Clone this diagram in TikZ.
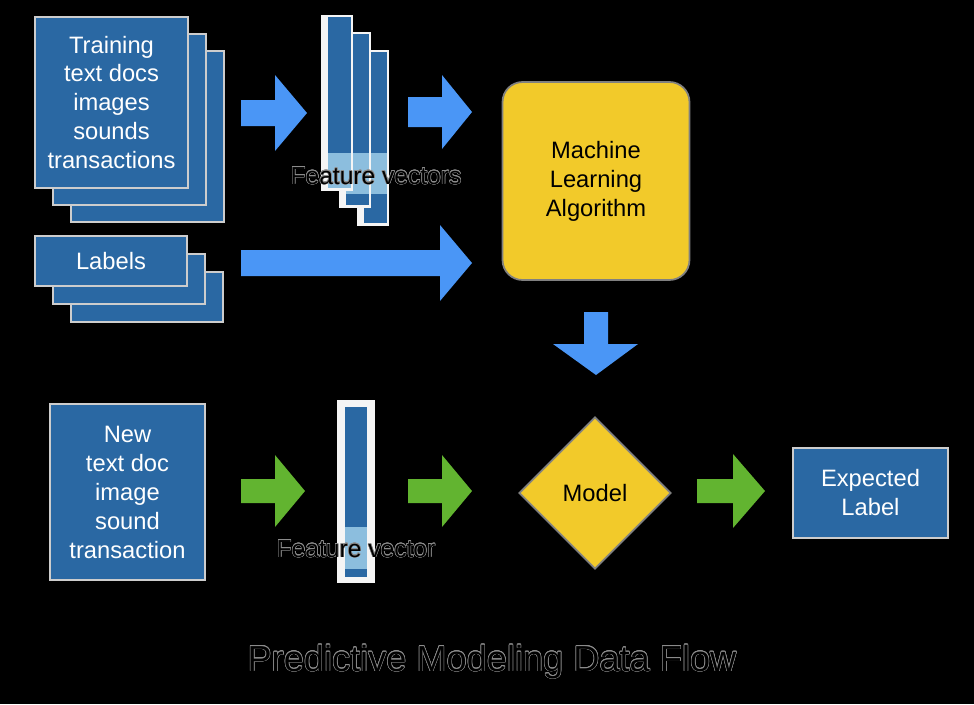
\documentclass[tikz,border=0pt]{standalone}
\usepackage{fontspec}
\setmainfont{Liberation Sans}
\usepackage[copies]{contour}
\contourlength{0.3pt}
\usetikzlibrary{shapes.geometric,positioning}

\definecolor{sheetblue}{RGB}{42,104,163}
\definecolor{vecband}{RGB}{140,190,222}
\definecolor{arrowblue}{RGB}{74,150,246}
\definecolor{arrowgreen}{RGB}{98,180,48}
\definecolor{algoyellow}{RGB}{242,202,42}
\definecolor{edgegray}{RGB}{205,205,205}

\tikzset{
  sheet/.style={fill=sheetblue, draw=edgegray, line width=1.2pt, inner sep=0pt},
  sheettext/.style={sheet, text=white, align=center,
    font=\fontsize{13.5}{16.5}\selectfont},
  yellowbox/.style={fill=algoyellow, draw=gray, line width=1pt, text=black,
    align=center, font=\fontsize{13.5}{16.5}\selectfont},
  caption/.style={text=black, font=\fontsize{14}{16}\selectfont, inner sep=0pt},
  vecbar/.style={fill=sheetblue},
  vecedge/.style={fill=white!92!gray}
}

% fat arrow: colour, start x, head x, tip x, middle y, shaft half, head half
\newcommand{\fatarrow}[7]{%
  \fill[#1] (#2,#5-#6) -- (#3,#5-#6) -- (#3,#5-#7) -- (#4,#5)
    -- (#3,#5+#7) -- (#3,#5+#6) -- (#2,#5+#6) -- cycle;}

\begin{document}
\begin{tikzpicture}[x=0.02cm, y=-0.02cm]

  % background, keeps the size of the page
  \fill[black] (0,0) rectangle (974,704);
  \useasboundingbox (0,0) rectangle (974,704);

  % 1. training data and labels, stacked sheets
  \foreach \k in {2,1} {
    \node[sheet, minimum width=3.06cm, minimum height=3.42cm]
      at (111.5+18*\k, 102.5+17*\k) {};
    \node[sheet, minimum width=3.04cm, minimum height=1cm]
      at (111+18*\k, 261+18*\k) {};
  }
  \node[sheettext, minimum width=3.06cm, minimum height=3.42cm] (train)
    at (111.5,102.5) {Training\\text docs\\images\\sounds\\transactions};
  \node[sheettext, minimum width=3.04cm, minimum height=1cm] (labels)
    at (111,261) {Labels};

  % 2. feature vectors
  \foreach \dx/\dy/\lb in {36/35/194, 18/17/194, 0/0/188} {
    \fill[vecedge] (321+\dx,15+\dy) rectangle (353+\dx,191+\dy);
    \fill[vecbar] (328+\dx,17+\dy) rectangle (351+\dx,188+\dy);
    \fill[vecband] (328+\dx,153) rectangle (351+\dx,\lb);
  }
  \node[caption] (fvecs) at (376,176) {\contour{white!55!black}{Feature vectors}};

  % 3. the algorithm
  \node[yellowbox, rounded corners=0.4cm, minimum width=3.74cm,
    minimum height=3.96cm] (algo) at (596,181) {Machine\\Learning\\Algorithm};

  % blue arrows
  \fatarrow{arrowblue}{241}{275}{307}{113}{13}{38}
  \fatarrow{arrowblue}{408}{442}{472}{112}{15}{37}
  \fatarrow{arrowblue}{241}{440}{472}{263}{13}{38}
  \fill[arrowblue] (584,312) -- (608,312) -- (608,344) -- (638,344)
    -- (596,375) -- (553,344) -- (584,344) -- cycle;

  % 4. new data
  \node[sheettext, minimum width=3.1cm, minimum height=3.52cm] (new)
    at (127.5,492) {New\\text doc\\image\\sound\\transaction};

  \fill[vecedge] (337,400) rectangle (375,583);
  \fill[vecbar] (345,407) rectangle (367,577);
  \fill[vecband] (345,527) rectangle (367,569);
  \node[caption] (fvec) at (356,549) {\contour{white!55!black}{Feature vector}};

  \node[yellowbox, diamond, aspect=1, inner sep=0pt, minimum width=3.04cm,
    minimum height=3.04cm] (model) at (595,493) {Model};

  \node[sheettext, minimum width=3.1cm, minimum height=1.8cm] (expected)
    at (870.5,493) {Expected\\Label};

  % green arrows
  \fatarrow{arrowgreen}{241}{275}{305}{491}{12}{36}
  \fatarrow{arrowgreen}{408}{442}{472}{491}{12}{36}
  \fatarrow{arrowgreen}{697}{733}{765}{491}{12}{37}

  % title
  \node[caption, font=\fontsize{20.6}{24}\selectfont] (title) at (492,662)
    {\contour{white!55!black}{Predictive Modeling Data Flow}};

\end{tikzpicture}
\end{document}
